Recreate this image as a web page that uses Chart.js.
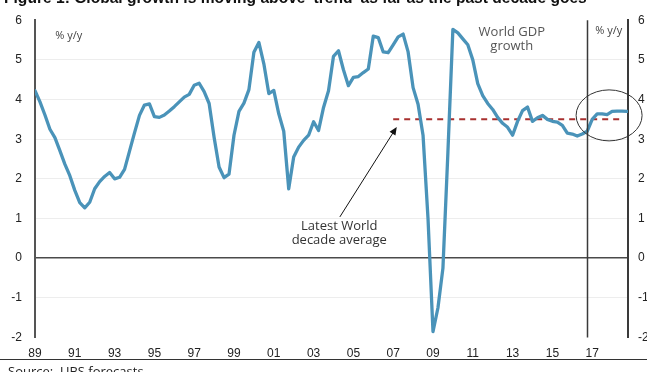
<!DOCTYPE html>
<html>
<head>
<meta charset="utf-8">
<script src="https://cdn.jsdelivr.net/npm/chart.js@4/dist/chart.umd.min.js"></script>
<style>
  html, body { margin: 0; padding: 0; background: #fff; overflow: hidden; }
  #wrap { position: relative; width: 647px; height: 372px; overflow: hidden; }
  canvas { position: absolute; left: 0; top: 0; }
  #title { position: absolute; left: 4px; top: -11px; font: bold 15.6px "Liberation Sans", Arial, sans-serif; color: #111; white-space: nowrap; }
  #rule { position: absolute; left: 0; top: 359px; width: 647px; border-top: 1.5px solid #333; }
  #source { position: absolute; left: 8px; top: 362px; font: 13px "Open Sans", sans-serif; color: #222; white-space: nowrap; }
</style>
</head>
<body>
<div id="wrap">
  <canvas id="chart" width="647" height="372"></canvas>
  <div id="title">Figure 1: Global growth is moving above 'trend' as far as the past decade goes</div>
  <div id="rule"></div>
  <div id="source">Source:&nbsp; UBS forecasts</div>
</div>
<script>
// World GDP growth, % y/y, quarterly from 1989 Q1 to 2018 Q4
const startYear = 1989;
const gdpGrowth = [
  4.22, 3.94, 3.61, 3.25,   // 1989
  3.04, 2.71, 2.37, 2.08,   // 1990
  1.71, 1.40, 1.27, 1.41,   // 1991
  1.75, 1.93, 2.06, 2.16,   // 1992
  2.00, 2.04, 2.24, 2.70,   // 1993
  3.16, 3.60, 3.86, 3.89,   // 1994
  3.57, 3.55, 3.61, 3.71,   // 1995
  3.82, 3.94, 4.06, 4.13,   // 1996
  4.36, 4.41, 4.20, 3.90,   // 1997
  3.05, 2.30, 2.03, 2.12,   // 1998
  3.10, 3.70, 3.91, 4.25,   // 1999
  5.19, 5.44, 4.90, 4.15,   // 2000
  4.23, 3.64, 3.20, 1.75,   // 2001
  2.55, 2.80, 2.97, 3.10,   // 2002
  3.44, 3.22, 3.80, 4.22,   // 2003
  5.09, 5.23, 4.75, 4.35,   // 2004
  4.56, 4.58, 4.68, 4.77,   // 2005
  5.60, 5.56, 5.20, 5.18,   // 2006
  5.38, 5.58, 5.65, 5.20,   // 2007
  4.30, 3.88, 3.10, 1.00,   // 2008
  -1.85, -1.25, -0.25, 2.67,// 2009
  5.77, 5.68, 5.53, 5.38,   // 2010
  5.00, 4.40, 4.10, 3.90,   // 2011
  3.75, 3.55, 3.40, 3.30,   // 2012
  3.10, 3.45, 3.72, 3.81,   // 2013
  3.45, 3.54, 3.60, 3.50,   // 2014
  3.45, 3.43, 3.35, 3.15,   // 2015
  3.13, 3.08, 3.13, 3.20,   // 2016
  3.50, 3.64, 3.64, 3.62,   // 2017
  3.70, 3.71, 3.71, 3.70    // 2018
];
// quarter positions in fractional years
const quarters = gdpGrowth.map((_, i) => startYear + i / 4);

// latest decade average and the span it is drawn over
const decadeAverage = 3.5;
const decadeAvgSpan = [2007, 2018.55];

// start of the forecast period
const forecastStart = 2016.75;

// tick labels
const xTickYears = [1989, 1991, 1993, 1995, 1997, 1999, 2001, 2003, 2005, 2007, 2009, 2011, 2013, 2015, 2017];
const yTicks = [-2, -1, 0, 1, 2, 3, 4, 5, 6];

const tickFont = { family: '"Liberation Sans Narrow", "Liberation Sans", Arial, sans-serif', size: 12 };
const noteFont = '13px "Open Sans", "Noto Sans", sans-serif';

const annotations = {
  id: 'annotations',
  afterDatasetsDraw(chart) {
    const { ctx, chartArea: a, scales: { x, y } } = chart;
    ctx.save();

    // forecast divider
    const fx = Math.round(x.getPixelForValue(forecastStart)) + 0.5;
    ctx.strokeStyle = '#3a3a3a';
    ctx.lineWidth = 1.5;
    ctx.beginPath();
    ctx.moveTo(fx, a.top);
    ctx.lineTo(fx, a.bottom);
    ctx.stroke();

    // ring around the latest quarters
    ctx.strokeStyle = '#333';
    ctx.lineWidth = 1;
    ctx.beginPath();
    ctx.ellipse(x.getPixelForValue(2017.85), y.getPixelForValue(3.6), 33, 25.5, 0, 0, Math.PI * 2);
    ctx.stroke();

    // arrow pointing at the decade average
    const tx = x.getPixelForValue(2004.32), ty = y.getPixelForValue(1.04);
    const hx = x.getPixelForValue(2007.18), hy = y.getPixelForValue(3.31);
    const ang = Math.atan2(hy - ty, hx - tx);
    ctx.strokeStyle = '#111';
    ctx.fillStyle = '#111';
    ctx.lineWidth = 1;
    ctx.beginPath();
    ctx.moveTo(tx, ty);
    ctx.lineTo(hx - 5 * Math.cos(ang), hy - 5 * Math.sin(ang));
    ctx.stroke();
    ctx.beginPath();
    ctx.moveTo(hx, hy);
    ctx.lineTo(hx - 8 * Math.cos(ang) + 3.5 * Math.sin(ang), hy - 8 * Math.sin(ang) - 3.5 * Math.cos(ang));
    ctx.lineTo(hx - 8 * Math.cos(ang) - 3.5 * Math.sin(ang), hy - 8 * Math.sin(ang) + 3.5 * Math.cos(ang));
    ctx.closePath();
    ctx.fill();

    // text notes
    ctx.textAlign = 'center';
    ctx.textBaseline = 'middle';
    ctx.font = noteFont;
    ctx.fillStyle = '#555';
    ctx.fillText('World GDP', x.getPixelForValue(2012.96), y.getPixelForValue(5.69));
    ctx.fillText('growth', x.getPixelForValue(2012.96), y.getPixelForValue(5.34));
    ctx.fillStyle = '#333';
    ctx.fillText('Latest World', x.getPixelForValue(2004.29), y.getPixelForValue(0.81));
    ctx.fillText('decade average', x.getPixelForValue(2004.29), y.getPixelForValue(0.44));

    ctx.font = '11px "Open Sans", "Noto Sans", sans-serif';
    ctx.fillStyle = '#444';
    ctx.fillText('% y/y', x.getPixelForValue(1990.7), y.getPixelForValue(5.61));
    ctx.fillText('% y/y', x.getPixelForValue(2017.83), y.getPixelForValue(5.74));

    ctx.restore();
  }
};

new Chart(document.getElementById('chart'), {
  type: 'line',
  data: {
    datasets: [
      {
        label: 'World GDP growth',
        data: quarters.map((q, i) => ({ x: q, y: gdpGrowth[i] })),
        borderColor: '#4a93b9',
        borderWidth: 3.3,
        borderJoinStyle: 'round',
        borderCapStyle: 'round',
        pointRadius: 0,
        tension: 0,
        fill: false
      },
      {
        label: 'Latest World decade average',
        data: decadeAvgSpan.map(v => ({ x: v, y: decadeAverage })),
        borderColor: '#a8302f',
        borderWidth: 2,
        borderDash: [6, 5],
        pointRadius: 0,
        fill: false
      }
    ]
  },
  options: {
    responsive: false,
    animation: false,
    devicePixelRatio: 1,
    layout: { padding: { top: 17, left: 0, right: 0, bottom: 0 } },
    plugins: { legend: { display: false }, tooltip: { enabled: false }, title: { display: false } },
    scales: {
      x: {
        type: 'linear',
        min: 1989,
        max: 2018.8,
        afterFit: s => { s.height = 34.5; },
        afterBuildTicks: s => { s.ticks = xTickYears.map(v => ({ value: v })); },
        grid: { display: false, drawTicks: false },
        border: { display: false },
        ticks: {
          padding: 9,
          maxRotation: 0,
          autoSkip: false,
          color: '#222',
          font: tickFont,
          callback: v => String(v).slice(2)
        }
      },
      y: {
        position: 'left',
        min: -2,
        max: 6,
        afterFit: s => { s.width = 35; },
        afterBuildTicks: s => { s.ticks = yTicks.map(v => ({ value: v })); },
        grid: {
          drawTicks: false,
          color: c => c.tick.value === 0 ? '#4a4a4a' : (c.tick.value === -2 || c.tick.value === 6 ? 'rgba(0,0,0,0)' : '#ededed'),
          lineWidth: c => c.tick.value === 0 ? 1.5 : 1
        },
        border: { color: '#555', width: 2 },
        ticks: { padding: 13, color: '#222', font: tickFont }
      },
      y2: {
        position: 'right',
        min: -2,
        max: 6,
        afterFit: s => { s.width = 19; },
        afterBuildTicks: s => { s.ticks = yTicks.map(v => ({ value: v })); },
        grid: { display: false, drawTicks: false },
        border: { color: '#3a3a3a', width: 2 },
        ticks: { padding: 10, color: '#222', font: tickFont }
      }
    }
  },
  plugins: [annotations]
});
</script>
</body>
</html>
